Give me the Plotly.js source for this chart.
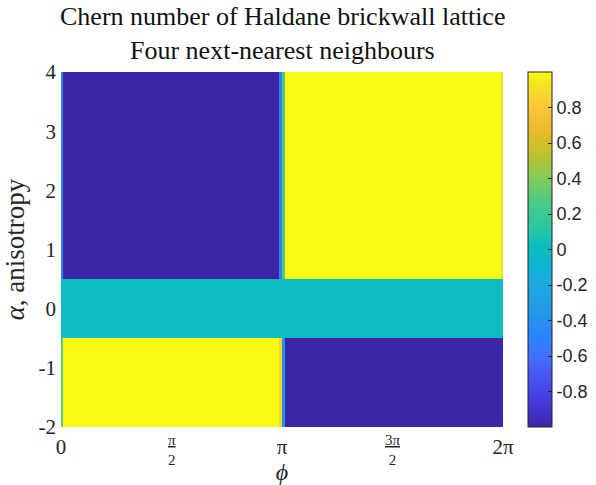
<!DOCTYPE html>
<html>
<head>
<meta charset="utf-8">
<script src="https://cdn.plot.ly/plotly-3.0.1.min.js"></script>
<style>html,body{margin:0;padding:0;background:#fff;}</style>
</head>
<body>
<div id="chart" style="width:596px;height:485px;"></div>
<script>
// phi cell edges (radians): left edge strip, left block, transition at pi, right block, right edge strip
const phiEdges = [0, 0.03, 3.10, 3.1416, 3.18, 6.26, 6.2832];
// alpha cell edges: lower block, gapped band, upper block
const alphaEdges = [-2, -0.5, 0.5, 4];
// Chern number values (rows: bottom to top)
const rowLower = [0.3, 1, 0.9, -0.4, -1, -1];
const rowMiddle = [0, 0, 0, 0, 0, 0];
const rowUpper = [-0.5, -1, -0.5, 0.3, 1, 0.9];

const xTickVals = [0, 3.1416, 6.2832];
const xTickText = ['0', 'π', '2π'];
const xFracVals = [1.5708, 4.7124];
const xFracText = ['<u>π</u><br>2', '<u>3π</u><br>2'];
const yTickVals = [-2, -1, 0, 1, 2, 3, 4];
const yTickText = ['-2', '-1', '0', '1', '2', '3', '4'];
const cbTickVals = [-0.8, -0.6, -0.4, -0.2, 0, 0.2, 0.4, 0.6, 0.8];
const cbTickText = ['-0.8', '-0.6', '-0.4', '-0.2', '0', '0.2', '0.4', '0.6', '0.8'];
const titleLines = ['Chern number of Haldane brickwall lattice', 'Four next-nearest neighbours'];

const parula = [
  [0.0, 'rgb(62,38,168)'],
  [0.0635, 'rgb(69,55,213)'],
  [0.127, 'rgb(72,78,240)'],
  [0.19, 'rgb(69,106,254)'],
  [0.254, 'rgb(44,131,253)'],
  [0.317, 'rgb(39,150,235)'],
  [0.381, 'rgb(32,166,225)'],
  [0.444, 'rgb(18,177,214)'],
  [0.508, 'rgb(11,189,189)'],
  [0.571, 'rgb(49,198,160)'],
  [0.635, 'rgb(74,203,132)'],
  [0.698, 'rgb(128,204,89)'],
  [0.762, 'rgb(185,195,49)'],
  [0.825, 'rgb(230,187,41)'],
  [0.889, 'rgb(254,195,56)'],
  [0.952, 'rgb(245,220,39)'],
  [1.0, 'rgb(249,251,21)']
];

const serif = 'Liberation Serif, Times New Roman, serif';
const ink = '#262626';

const trace = {
  type: 'heatmap',
  x: phiEdges,
  y: alphaEdges,
  z: [rowLower, rowMiddle, rowUpper],
  zmin: -1, zmax: 1,
  zsmooth: false,
  colorscale: parula,
  hoverinfo: 'skip',
  colorbar: {
    xref: 'container', x: 0.8859, xanchor: 'left',
    yref: 'paper', y: 0.5, yanchor: 'middle',
    len: 1, lenmode: 'fraction',
    thickness: 24, thicknessmode: 'pixels',
    outlinecolor: ink, outlinewidth: 1,
    tickvals: cbTickVals, ticktext: cbTickText,
    ticks: 'inside', ticklen: 4, tickcolor: ink,
    tickfont: {family: 'Liberation Sans, Arial, sans-serif', size: 18, color: ink},
    xpad: 0, ypad: 0
  }
};

const annotations = [
  {text: titleLines[0], xref: 'paper', yref: 'paper', x: 0.5, y: (427 - 17) / 355,
   xanchor: 'center', yanchor: 'middle', showarrow: false,
   font: {family: serif, size: 26, color: '#111'}},
  {text: titleLines[1], xref: 'paper', yref: 'paper', x: 0.5, y: (427 - 50) / 355,
   xanchor: 'center', yanchor: 'middle', showarrow: false,
   font: {family: serif, size: 26, color: '#111'}}
];
xFracVals.forEach((v, i) => annotations.push({
  text: xFracText[i], xref: 'x', yref: 'paper', x: v, y: -23 / 355,
  xanchor: 'center', yanchor: 'middle', showarrow: false,
  font: {family: serif, size: 15, color: ink}
}));

const layout = {
  width: 596, height: 485,
  margin: {l: 61, r: 93, t: 72, b: 58},
  paper_bgcolor: '#fff', plot_bgcolor: '#fff',
  annotations: annotations,
  xaxis: {
    range: [0, 6.2832], tickvals: xTickVals, ticktext: xTickText,
    tickfont: {family: serif, size: 21, color: ink},
    showgrid: false, zeroline: false, showline: false, ticks: '',
    ticklabelstandoff: 5,
    title: {text: '<i>ϕ</i>', font: {family: serif, size: 24, color: ink}, standoff: 5}
  },
  yaxis: {
    range: [-2, 4], tickvals: yTickVals, ticktext: yTickText,
    tickfont: {family: serif, size: 21, color: ink},
    showgrid: false, zeroline: false, showline: false, ticks: '',
    ticklabelstandoff: 4,
    title: {text: '<i>α</i>, anisotropy', font: {family: serif, size: 27, color: ink}, standoff: 9}
  }
};

Plotly.newPlot('chart', [trace], layout, {displayModeBar: false, staticPlot: true});
</script>
</body>
</html>
